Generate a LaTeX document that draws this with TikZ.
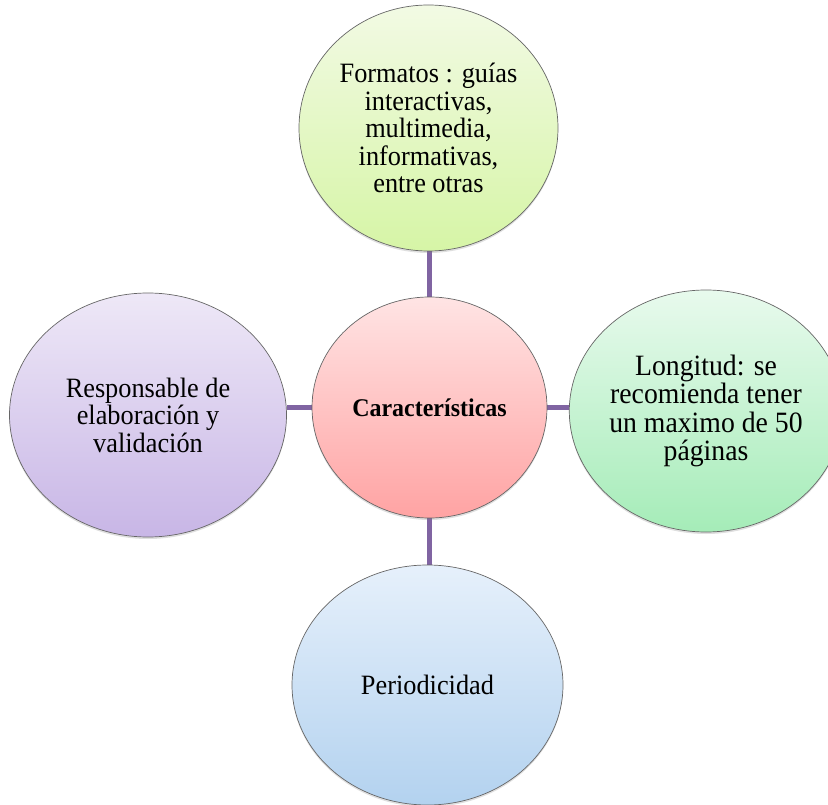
\documentclass[tikz,border=0pt]{standalone}
\usepackage{fontspec}
\setmainfont[FakeStretch=0.94]{Liberation Serif}
\usetikzlibrary{shapes.geometric,backgrounds,shadows}
\begin{document}
\begin{tikzpicture}[x=1pt,y=1pt,
  bub/.style={ellipse,draw=black!60,line width=0.7pt,inner sep=0pt,align=center,
    font=\fontsize{28}{27.5}\selectfont,
    drop shadow={opacity=0.25,shadow xshift=0pt,shadow yshift=-2pt}},
  conn/.style={draw=purpleline,line width=4.5pt}]
\definecolor{purpleline}{HTML}{8064A2}
\useasboundingbox (0,0) rectangle (828,-805);
\node[bub,minimum width=259pt,minimum height=246pt,top color={rgb,255:red,242;green,250;blue,228},bottom color={rgb,255:red,214;green,245;blue,166}]
  (t) at (428.5,-128) {Formatos : guías\\interactivas,\\multimedia,\\informativas,\\entre otras};
\node[bub,minimum width=235pt,minimum height=221pt,top color={rgb,255:red,255;green,228;blue,228},bottom color={rgb,255:red,255;green,163;blue,163},font=\fontsize{25.5}{26}\selectfont\bfseries]
  (c) at (429.5,-407.5) {Características};
\node[bub,minimum width=277pt,minimum height=244pt,top color={rgb,255:red,238;green,232;blue,247},bottom color={rgb,255:red,200;green,182;blue,230}]
  (l) at (148,-415) {Responsable de\\elaboración y\\validación};
\node[bub,minimum width=268pt,minimum height=242pt,top color={rgb,255:red,232;green,250;blue,237},bottom color={rgb,255:red,165;green,236;blue,184},font=\fontsize{29.5}{28.5}\selectfont]
  (r) at (706,-411) {Longitud: se\\recomienda tener\\un maximo de 50\\páginas};
\node[bub,minimum width=271pt,minimum height=240pt,top color={rgb,255:red,230;green,240;blue,251},bottom color={rgb,255:red,179;green,210;blue,239}]
  (b) at (427.5,-685) {Periodicidad};
\begin{scope}[on background layer]
\draw[conn] (c.north) -- (c.north |- t.south);
\draw[conn] (c.south) -- (c.south |- b.north);
\draw[conn] (c.west) -- (c.west -| l.east);
\draw[conn] (c.east) -- (c.east -| r.west);
\end{scope}
\end{tikzpicture}
\end{document}
